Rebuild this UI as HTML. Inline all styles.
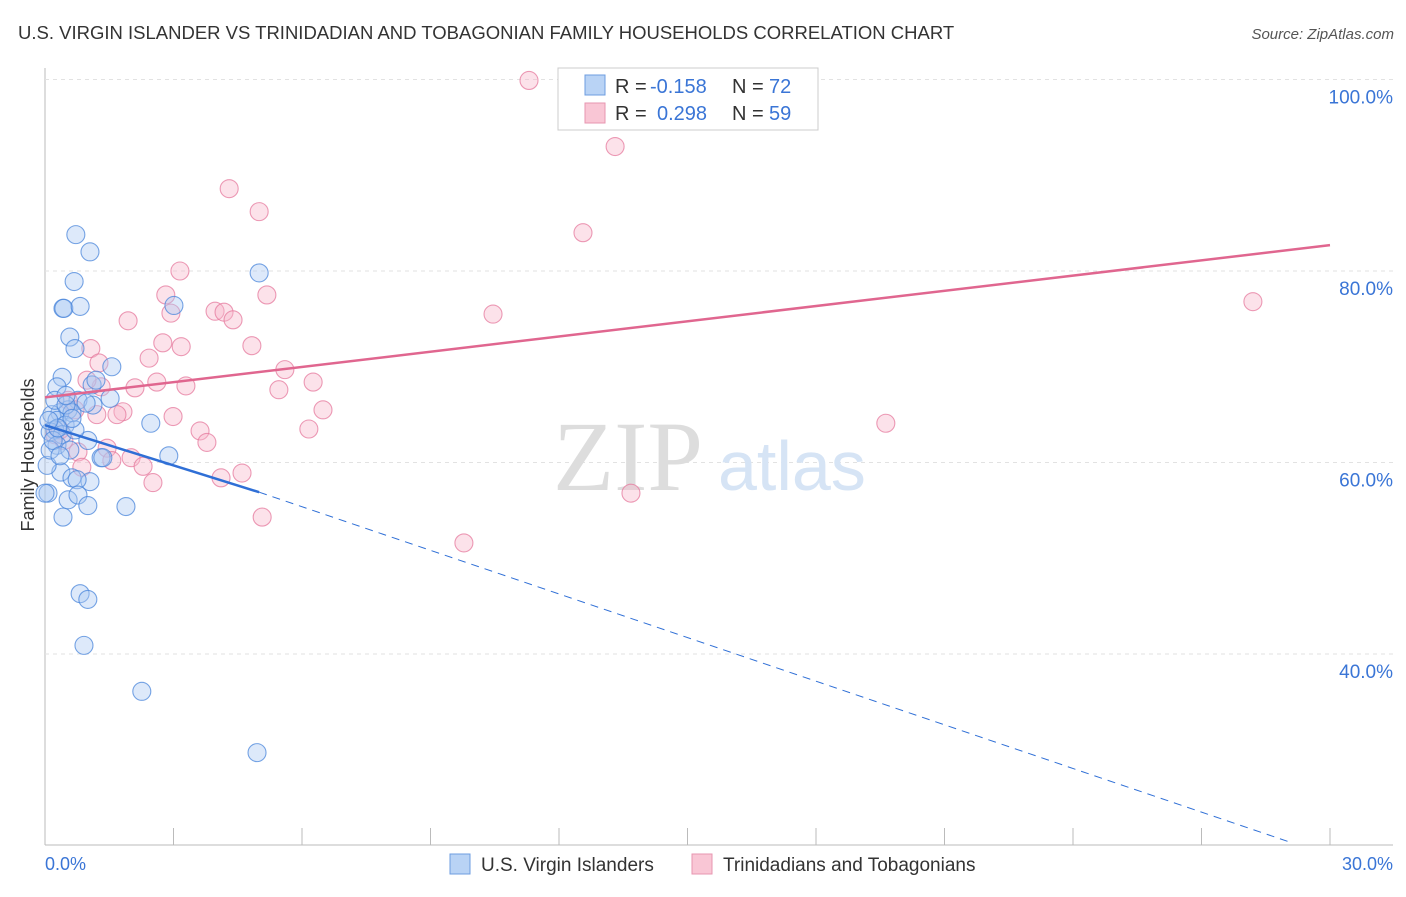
<!DOCTYPE html>
<html><head><meta charset="utf-8"><style>
body{margin:0;background:#fff;font-family:"Liberation Sans",sans-serif}
</style></head><body>
<svg width="1406" height="892" xmlns="http://www.w3.org/2000/svg">
<text x="18" y="39" font-size="18.5" fill="#333">U.S. VIRGIN ISLANDER VS TRINIDADIAN AND TOBAGONIAN FAMILY HOUSEHOLDS CORRELATION CHART</text>
<text x="1394" y="39" font-size="15" fill="#555" font-style="italic" text-anchor="end">Source: ZipAtlas.com</text>
<g id="grid"></g>
<text x="553" y="490" font-size="100" fill="#ddd" font-family="Liberation Serif">ZIP</text>
<text x="718" y="490" font-size="70" fill="#d6e4f5">atlas</text>
<g id="pts"></g>
<g id="lines"></g>
<text transform="translate(34,455) rotate(-90)" font-size="18" fill="#333" text-anchor="middle">Family Households</text>
<text x="45" y="870" font-size="18" fill="#3a75d6">0.0%</text>
<text x="1393" y="870" font-size="18" fill="#3a75d6" text-anchor="end">30.0%</text>
<g>
<rect x="558" y="68" width="260" height="62" fill="#fff" stroke="#ccc"/>
<rect x="585" y="75" width="20" height="20" fill="#b9d3f5" stroke="#6d9de0"/>
<rect x="585" y="103" width="20" height="20" fill="#f9c6d5" stroke="#e796b0"/>
<text x="615" y="93" font-size="20" fill="#333">R =</text>
<text x="650" y="93" font-size="20" fill="#3a75d6">-0.158</text>
<text x="732" y="93" font-size="20" fill="#333">N =</text>
<text x="769" y="93" font-size="20" fill="#3a75d6">72</text>
<text x="615" y="120" font-size="20" fill="#333">R =</text>
<text x="657" y="120" font-size="20" fill="#3a75d6">0.298</text>
<text x="732" y="120" font-size="20" fill="#333">N =</text>
<text x="769" y="120" font-size="20" fill="#3a75d6">59</text>
</g>
<g>
<rect x="450" y="854" width="20" height="20" fill="#b9d3f5" stroke="#6d9de0"/>
<text x="481" y="871" font-size="19" fill="#333">U.S. Virgin Islanders</text>
<rect x="692" y="854" width="20" height="20" fill="#f9c6d5" stroke="#e796b0"/>
<text x="723" y="871" font-size="19" fill="#333">Trinidadians and Tobagonians</text>
</g>
</svg>
<script>
const yTicks=[40,60,80,100];
const xTickVals=[0,3,6,9,12,15,18,21,24,27,30];
const bluePx=[[76,235],[90,252],[74,282],[63,308],[64,308],[80,306],[70,337],[75,349],[112,367],[62,377],[57,387],[92,385],[78,400],[93,405],[68,410],[60,413],[72,413],[52,415],[57,420],[65,425],[55,430],[50,432],[62,435],[88,440],[57,445],[70,450],[101,458],[61,472],[72,478],[90,482],[77,480],[48,493],[68,500],[78,495],[88,506],[126,507],[63,517],[80,594],[88,599],[84,645],[142,691],[257,753],[259,273],[174,305],[151,423],[169,456],[103,458],[47,465],[50,450],[55,400],[66,405],[96,380],[110,398],[86,403],[53,440],[60,456],[75,430],[66,395],[72,418],[58,428],[49,420],[45,493]];
const pinkPx=[[529,80],[615,147],[229,189],[259,212],[583,233],[180,271],[166,295],[267,295],[171,313],[215,311],[224,312],[233,320],[128,321],[493,314],[1253,302],[91,349],[181,347],[163,343],[252,346],[149,358],[99,363],[285,370],[157,382],[186,386],[135,388],[101,387],[313,382],[279,390],[87,380],[123,412],[117,415],[173,417],[323,410],[200,431],[207,442],[309,429],[886,423],[55,435],[64,440],[107,448],[78,452],[131,458],[112,461],[143,466],[82,467],[242,473],[221,478],[153,483],[262,517],[631,493],[464,543],[68,400],[75,410],[60,430],[97,415]];
const blueX=bluePx.map(p=>+((p[0]-45)/1285*30).toFixed(2));
const blueY=bluePx.map(p=>+(100-(p[1]-79.5)/9.575).toFixed(1));
const pinkX=pinkPx.map(p=>+((p[0]-45)/1285*30).toFixed(2));
const pinkY=pinkPx.map(p=>+(100-(p[1]-79.5)/9.575).toFixed(1));
const pinkLine=[[0,66.8],[30,82.7]];
const blueSolid=[[0,63.9],[5.0,56.9]];
const blueDash=[[5.0,56.9],[29.1,20.3]];
const X=v=>45+v/30*1285, Y=v=>79.5+(100-v)*9.575;
const NS="http://www.w3.org/2000/svg";
function mk(tag,attrs,parent){const e=document.createElementNS(NS,tag);for(const k in attrs)e.setAttribute(k,attrs[k]);parent.appendChild(e);return e;}
const g=document.getElementById('grid');
let ax=mk('line',{x1:45,y1:68,x2:45,y2:845,stroke:'#bbb'},g);


let bx=mk('line',{x1:45,y1:845,x2:1393,y2:845,stroke:'#bbb'},g);


yTicks.forEach(t=>{
 const l=mk('line',{x1:45,x2:1393,y1:Y(t),y2:Y(t),stroke:'#e2e2e2','stroke-dasharray':'4,4'},g);
 
 
 const tx=mk('text',{x:1393,y:Y(t)+24,'font-size':19,fill:'#3a75d6','text-anchor':'end'},g);
 tx.textContent=t.toFixed(1)+'%';
 
 
});
xTickVals.forEach(t=>{
 const l=mk('line',{x1:X(t),x2:X(t),y1:828,y2:845,stroke:'#bbb'},g);
 
 
});
const pg=document.getElementById('pts');
function dots(xs,ys,fill,stroke,name){xs.forEach((x,i)=>{
 const c=mk('circle',{cx:X(x),cy:Y(ys[i]),r:9,fill:fill,'fill-opacity':0.4,stroke:stroke,'stroke-opacity':0.75,'stroke-width':1.1},pg);
 
 
});}
dots(pinkX,pinkY,'#f7b6ca','#e67a9e','pink-point');
dots(blueX,blueY,'#a9c8f2','#4a86db','blue-point');
const lg=document.getElementById('lines');
function ln(p,st,w,dash,name){const l=mk('line',{x1:X(p[0][0]),y1:Y(p[0][1]),x2:X(p[1][0]),y2:Y(p[1][1]),stroke:st,'stroke-width':w},lg);if(dash)l.setAttribute('stroke-dasharray',dash);
 
 }
ln(pinkLine,'#e0668f',2.5,null,'pink-trend-line');
ln(blueSolid,'#2f6fd6',2.5,null,'blue-trend-line');
ln(blueDash,'#2f6fd6',1,'8,6','blue-trend-extension');
</script>
</body></html>
